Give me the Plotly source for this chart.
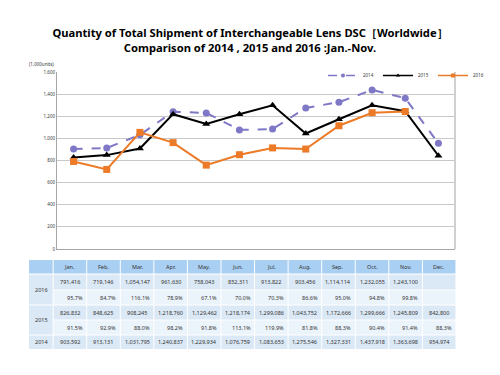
import plotly.graph_objects as go

months = ["Jan.", "Feb.", "Mar.", "Apr.", "May.", "Jun.", "Jul.", "Aug.", "Sep.", "Oct.", "Nov.", "Dec."]
ship_2016 = [791416, 719146, 1054147, 961630, 758043, 852311, 913822, 903456, 1114114, 1232055, 1243100]
pct_2016 = ["95.7%", "84.7%", "116.1%", "78.9%", "67.1%", "70.0%", "70.3%", "86.6%", "95.0%", "94.8%", "99.8%"]
ship_2015 = [826832, 848625, 908245, 1218760, 1129462, 1218174, 1299086, 1043752, 1172666, 1299666, 1245809, 842800]
pct_2015 = ["91.5%", "92.9%", "88.0%", "98.2%", "91.8%", "113.1%", "119.9%", "81.8%", "88.3%", "90.4%", "91.4%", "88.3%"]
ship_2014 = [903592, 913131, 1031795, 1240837, 1229934, 1076759, 1083653, 1275546, 1327331, 1437918, 1363698, 954974]
y_ticks = [0, 200, 400, 600, 800, 1000, 1200, 1400, 1600]

# browser body margin offset
OFF = 8
W, H = 500 - OFF, 375 - OFF
L, R, T, B = 57, 470, 72, 249  # plot area in window pixels

def px(x):
    return (x - L) / (R - L)

def py(y):
    return (B - y) / (B - T)

FONT = "Noto Sans"
C14, C15, C16 = "#7f78c6", "#000000", "#ec7a26"
fig = go.Figure()
fig.add_trace(go.Scatter(x=months, y=[v / 1000 for v in ship_2014], name="2014", mode="lines+markers",
                         line=dict(color=C14, width=2, dash="dash"), showlegend=False,
                         marker=dict(symbol="circle", size=7, color=C14)))
fig.add_trace(go.Scatter(x=months, y=[v / 1000 for v in ship_2015], name="2015", mode="lines+markers",
                         line=dict(color=C15, width=2), showlegend=False,
                         marker=dict(symbol="triangle-up", size=7, color=C15)))
fig.add_trace(go.Scatter(x=months[:len(ship_2016)], y=[v / 1000 for v in ship_2016], name="2016", mode="lines+markers",
                         line=dict(color=C16, width=2), showlegend=False,
                         marker=dict(symbol="square", size=7, color=C16)))
# legend entries (small symbols as in the original)
for name, c, sym, dash in [("2014", C14, "circle", "dash"), ("2015", C15, "triangle-up", "solid"),
                           ("2016", C16, "square", "solid")]:
    fig.add_trace(go.Scatter(x=[None], y=[None], name=name, mode="lines+markers",
                             line=dict(color=c, width=1.5, dash=dash),
                             marker=dict(symbol=sym, size=4, color=c)))

shapes = []
annotations = []

shapes.append(dict(type="line", xref="paper", yref="paper", x0=1, x1=1, y0=0, y1=1,
                   line=dict(color="#d0d0d0", width=2)))

# table
tx0, tx1 = 28, 471
col0 = 53
ncol = len(months)
cw = (tx1 - col0) / ncol
rows = [(260, 274), (274, 290), (290, 305), (305, 320), (320, 335), (335, 349)]
fills = ["#a9cff2", "#dbe8f5", "#ebf3fb", "#dbe8f5", "#ebf3fb", "#dbe8f5"]
for (y0, y1), f in zip(rows, fills):
    shapes.append(dict(type="rect", xref="paper", yref="paper", x0=px(tx0), x1=px(tx1),
                       y0=py(y1), y1=py(y0), fillcolor=f, line=dict(width=0), layer="below"))
# row-label column: merged cells for 2016 / 2015
shapes.append(dict(type="rect", xref="paper", yref="paper", x0=px(tx0), x1=px(col0),
                   y0=py(305), y1=py(274), fillcolor="#dbe8f5", line=dict(width=0), layer="below"))
shapes.append(dict(type="rect", xref="paper", yref="paper", x0=px(tx0), x1=px(col0),
                   y0=py(335), y1=py(305), fillcolor="#dbe8f5", line=dict(width=0), layer="below"))
for i in range(ncol + 1):
    xx = col0 + i * cw
    shapes.append(dict(type="line", xref="paper", yref="paper", x0=px(xx), x1=px(xx),
                       y0=py(349), y1=py(260), line=dict(color="white", width=1)))
for yy in [274, 305, 335]:
    shapes.append(dict(type="line", xref="paper", yref="paper", x0=px(tx0), x1=px(tx1),
                       y0=py(yy), y1=py(yy), line=dict(color="white", width=1)))
for yy in [290, 320]:
    shapes.append(dict(type="line", xref="paper", yref="paper", x0=px(col0), x1=px(tx1),
                       y0=py(yy), y1=py(yy), line=dict(color="white", width=1)))

tf = dict(family=FONT, size=5.5, color="#333333")

def txt(x, y, s, anchor="center"):
    annotations.append(dict(xref="paper", yref="paper", x=px(x), y=py(y), text=s, showarrow=False,
                            xanchor=anchor, yanchor="middle", font=tf))

for i, m in enumerate(months):
    txt(col0 + (i + 0.5) * cw, 267, m)
txt((tx0 + col0) / 2, 289.5, "2016")
txt((tx0 + col0) / 2, 319.5, "2015")
txt((tx0 + col0) / 2, 342, "2014")
for i, v in enumerate(ship_2016):
    txt(col0 + (i + 0.5) * cw, 282, f"{v:,}")
for i, v in enumerate(pct_2016):
    txt(col0 + (i + 1) * cw - 2, 297.5, v, "right")
for i, v in enumerate(ship_2015):
    txt(col0 + (i + 0.5) * cw, 312.5, f"{v:,}")
for i, v in enumerate(pct_2015):
    txt(col0 + (i + 1) * cw - 2, 327.5, v, "right")
for i, v in enumerate(ship_2014):
    txt(col0 + (i + 0.5) * cw, 342, f"{v:,}")

annotations.append(dict(xref="paper", yref="paper", x=px(56), y=py(64), text="(1,000units)", showarrow=False,
                        xanchor="right", yanchor="middle", font=dict(family=FONT, size=4.5, color="#333333")))

fig.update_layout(
    width=W, height=H,
    margin=dict(l=L - OFF, r=W - (R - OFF), t=T - OFF, b=H - (B - OFF), pad=0),
    paper_bgcolor="white", plot_bgcolor="white",
    title=dict(text="<b>Quantity of Total Shipment of Interchangeable Lens DSC［Worldwide］<br>Comparison of 2014 , 2015 and 2016 :Jan.-Nov.</b>",
               x=(250 - OFF) / W, xanchor="center", y=1 - (37 - OFF) / H, yanchor="middle",
               font=dict(family=FONT, size=11.2, color="#000000")),
    xaxis=dict(type="category", showticklabels=False, showgrid=False, showline=True,
               linecolor="#a6a6a6", linewidth=1, ticks="", range=[-0.5, 11.5]),
    yaxis=dict(range=[0, 1600], tickvals=y_ticks, tickformat=",", showgrid=True, gridcolor="#c8c8c8",
               gridwidth=1, showline=True, linecolor="#a6a6a6", linewidth=1, ticks="",
               tickfont=dict(family=FONT, size=4.5, color="#333333"), zeroline=False),
    legend=dict(orientation="h", x=px(333), y=py(61), xanchor="left", yanchor="top",
                font=dict(family=FONT, size=4.5, color="#333333"),
                entrywidth=10, entrywidthmode="pixels",
                bgcolor="rgba(255,255,255,0)", tracegroupgap=0),
    shapes=shapes, annotations=annotations,
    showlegend=True,
)

fig.write_html("out.html")
